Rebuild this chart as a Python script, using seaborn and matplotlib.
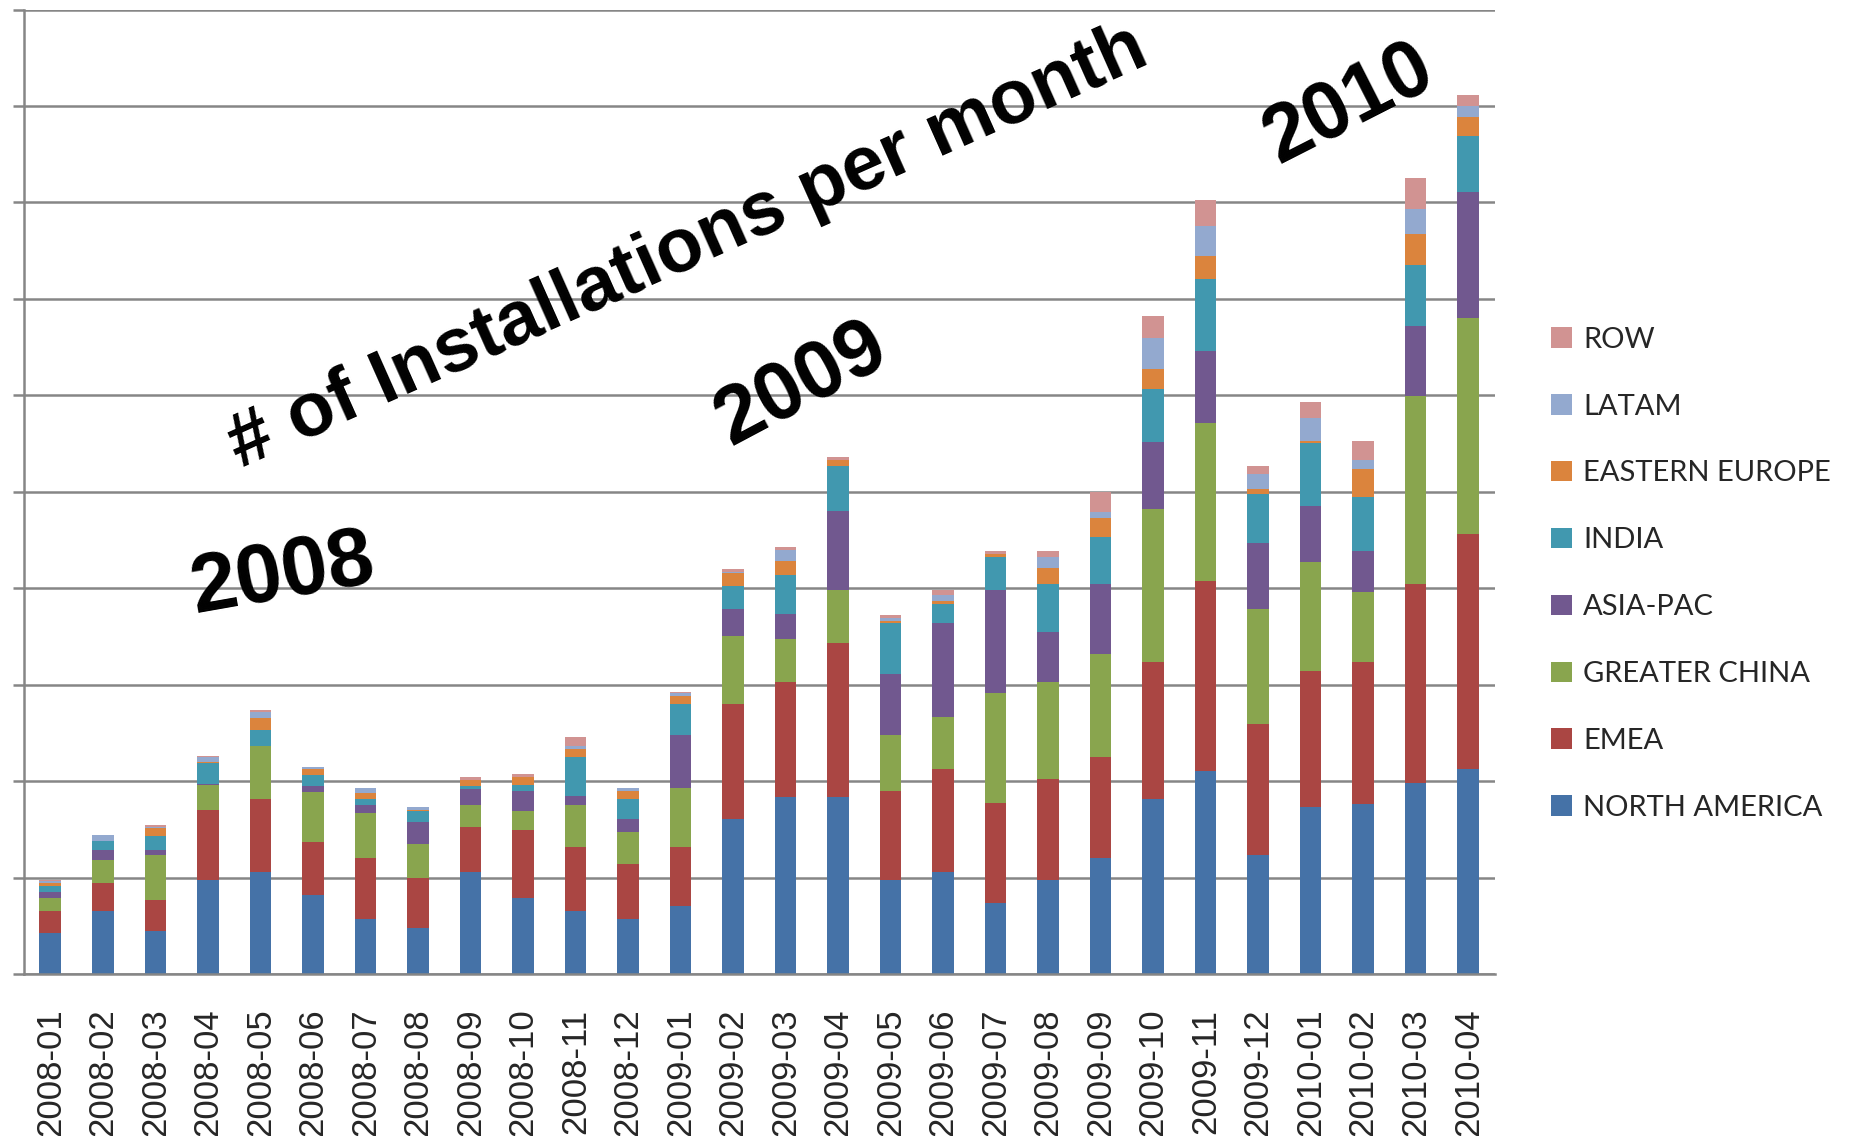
import numpy as np
import pandas as pd
import matplotlib
matplotlib.use("Agg")
import matplotlib.pyplot as plt
import seaborn as sns
from matplotlib.patches import Patch

# --- data ---
months = ["2008-01", "2008-02", "2008-03", "2008-04", "2008-05", "2008-06", "2008-07",
          "2008-08", "2008-09", "2008-10", "2008-11", "2008-12", "2009-01", "2009-02",
          "2009-03", "2009-04", "2009-05", "2009-06", "2009-07", "2009-08", "2009-09",
          "2009-10", "2009-11", "2009-12", "2010-01", "2010-02", "2010-03", "2010-04"]

north_america = [42, 65, 45, 97, 106, 82, 57, 48, 106, 79, 65, 57, 70.5, 161, 184, 184,
                 97, 106, 73.5, 97, 120, 181, 210, 123, 173, 176, 198.5, 213]
emea = [23, 29, 32, 73, 75, 55, 63, 52, 46, 70, 67, 57, 61, 119, 119, 159,
        93, 107, 104, 105, 105, 142, 197, 136, 141.5, 147, 205.5, 243.5]
greater_china = [14, 24, 46, 26, 55, 52, 47, 35, 23, 20, 43.5, 33, 61, 70, 44, 55,
                 58, 53, 114, 101, 107, 159, 164, 119, 113, 73, 195.5, 224]
asia_pac = [6, 11, 5.5, 1, 0.5, 6, 8.5, 23, 17, 21, 9, 14, 55, 28, 26, 82,
            63, 98, 107, 52, 72, 70, 75, 69, 58, 43, 72, 130]
india = [6, 8.5, 14.5, 22, 17, 11.5, 6, 11.5, 3, 5.5, 40.5, 20, 32, 24, 40.5, 47,
         53, 20, 34, 49, 49, 55, 75, 51, 65, 56, 64, 58]
eastern_europe = [3, 0.5, 8.5, 0.5, 12, 6, 6, 0.5, 6, 8.5, 8.5, 9, 8.5, 14, 14.5, 5.5,
                  2.5, 3, 3, 17, 20, 20.5, 23, 5, 2, 29, 31.5, 20.5]
latam = [2.5, 6, 1, 6, 6, 2.5, 5.5, 3, 0.5, 0, 3, 3, 3.5, 0.5, 12, 0,
         3, 5.5, 0.5, 11.5, 6, 32, 32, 15, 24, 9, 26, 11]
row = [0.5, 0.5, 2.5, 0.5, 2.5, 0, 0, 0, 2.5, 3.5, 9, 0, 0.5, 3, 2.5, 3.5,
       3, 6, 3, 6, 20.5, 23, 27, 9, 17, 20, 32, 11.5]

regions = ["NORTH AMERICA", "EMEA", "GREATER CHINA", "ASIA-PAC", "INDIA",
           "EASTERN EUROPE", "LATAM", "ROW"]
colors = ["#4572A7", "#AA4643", "#89A54E", "#71588F", "#4198AF",
          "#DB843D", "#93A9CF", "#D19392"]

df = pd.DataFrame({"month": months, "NORTH AMERICA": north_america, "EMEA": emea,
                   "GREATER CHINA": greater_china, "ASIA-PAC": asia_pac, "INDIA": india,
                   "EASTERN EUROPE": eastern_europe, "LATAM": latam, "ROW": row})
cum = df[regions].cumsum(axis=1)

# --- plot ---
sns.set_style("white")
GRAY = "#868686"
fig = plt.figure(figsize=(18.6, 11.36), dpi=100)
ax = fig.add_axes([0.0129, 0.1426, 0.8035 - 0.0129, 0.9916 - 0.1426])

# draw cumulative totals from the top layer down so each visible slice is one region
for reg, col in reversed(list(zip(regions, colors))):
    sns.barplot(x=df["month"], y=cum[reg], color=col, saturation=1, width=0.41,
                errorbar=None, order=months, linewidth=0, ax=ax)

ax.set_xlim(-0.5, len(months) - 0.5)
ax.set_ylim(0, 1000)
ax.set_yticks(np.arange(0, 1001, 100))
ax.set_yticklabels([])
ax.yaxis.grid(True, color=GRAY, linewidth=1.8)
ax.set_axisbelow(True)
ax.set_xlabel("")
ax.set_ylabel("")

for s in ["top", "right"]:
    ax.spines[s].set_visible(False)
for s in ["left", "bottom"]:
    ax.spines[s].set_color(GRAY)
    ax.spines[s].set_linewidth(1.8)

ax.set_xticks(np.arange(len(months)))
ax.set_xticklabels(months, rotation=90, fontsize=25, family="Liberation Sans")
ax.set_xticks(np.arange(-0.5, len(months), 1), minor=True)
ax.tick_params(axis="x", which="major", length=0, pad=25)
ax.tick_params(axis="x", which="minor", length=8, width=1.8, color=GRAY, direction="out")
ax.tick_params(axis="y", which="major", length=8, width=1.8, color=GRAY, direction="out", left=True)

# annotations
font = dict(family="Liberation Sans", weight="bold", color="black",
            ha="center", va="center", rotation_mode="anchor")
fig.text(0.370, 0.782, "# of Installations per month", fontsize=55, rotation=24, **font)
fig.text(0.152, 0.494, "2008", fontsize=60, rotation=10, **font)
fig.text(0.431, 0.661, "2009", fontsize=59, rotation=28, **font)
fig.text(0.725, 0.908, "2010", fontsize=58, rotation=27, **font)

handles = [Patch(facecolor=c, edgecolor="none") for c in colors][::-1]
fig.legend(handles, regions[::-1], loc="center left", bbox_to_anchor=(0.834, 0.495),
           frameon=False, prop={"family": "Lato", "size": 21}, handlelength=0.7,
           handleheight=0.7, handletextpad=0.4, labelspacing=1.4,
           borderpad=0, borderaxespad=0)

fig.savefig("out.png", dpi=100)
